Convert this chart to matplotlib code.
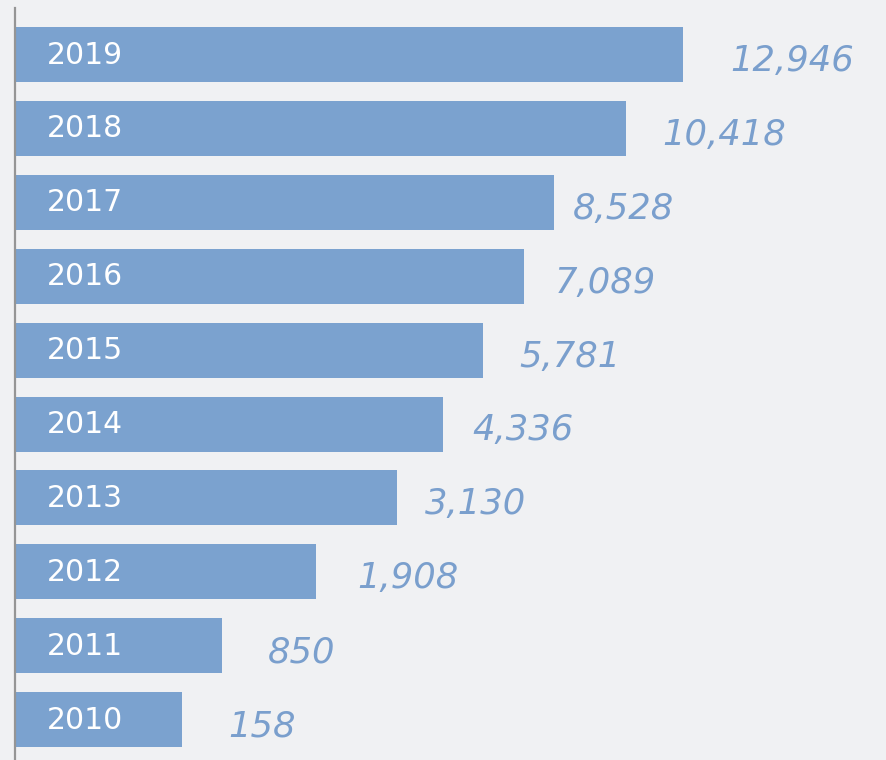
import matplotlib
matplotlib.use("Agg")
import matplotlib.pyplot as plt

years = ["2019", "2018", "2017", "2016", "2015", "2014", "2013", "2012", "2011", "2010"]
values = [12946, 10418, 8528, 7089, 5781, 4336, 3130, 1908, 850, 158]
# bar lengths as drawn in the original (not proportional to values)
bar_len = [667, 610, 538, 508, 467, 427, 381, 300, 206, 166]
label_gap = [47, 36, 19, 31, 36, 29, 28, 41, 46, 46]

bar_color = "#7ba2cf"
text_color = "#7a9fcd"
bg = "#f0f1f3"

fig = plt.figure(figsize=(8.87, 7.60), dpi=100, facecolor=bg)
ax = fig.add_axes([0, 0, 1, 1], facecolor=bg)

x0 = 16
pitch = 73.9
ypos = [54.5 + i * pitch for i in range(len(years))]

ax.barh(ypos, bar_len, height=55, left=x0, color=bar_color)

for i, (yr, v) in enumerate(zip(years, values)):
    ax.text(x0 + 31, ypos[i] + 0.5, yr, color="white", fontsize=21.5,
            family="DejaVu Sans", va="center", ha="left")
    ax.text(x0 + bar_len[i] + label_gap[i], ypos[i] + 6.5, f"{v:,}",
            color=text_color, fontsize=25.5, family="DejaVu Sans",
            style="italic", va="center", ha="left")

ax.plot([x0 - 0.5, x0 - 0.5], [8, 760], color="#959595", lw=1.6)

ax.set_xlim(0, 887)
ax.set_ylim(760, 0)
ax.axis("off")

fig.savefig("out.png", dpi=100, facecolor=bg)
